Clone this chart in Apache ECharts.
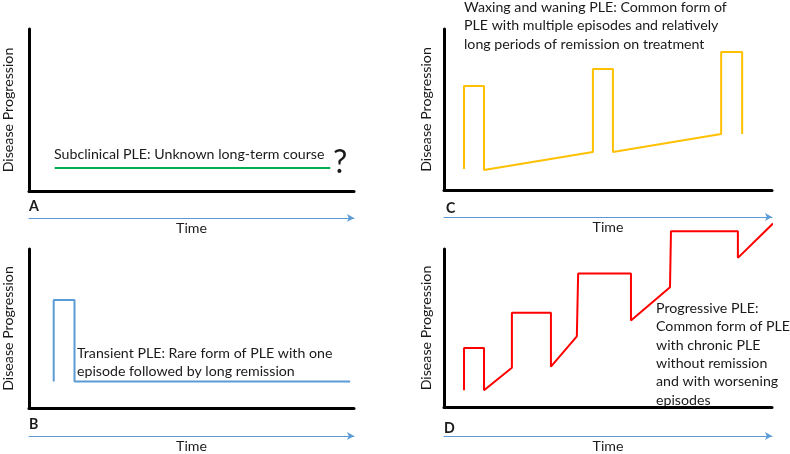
<!DOCTYPE html>
<html><head><meta charset="utf-8">
<script src="https://cdn.jsdelivr.net/npm/echarts@6/dist/echarts.min.js"></script>
<style>html,body{margin:0;padding:0;background:#fff}#c{width:790px;height:454px}</style>
</head><body><div id="c"></div>
<script>
const FONT = 'Lato';
const TXT = '#1a1a1a';
// Panel A: subclinical
const timeA = [7.9, 92.7];
const progA = [14.2, 14.2];
// Panel B: transient
const timeB = [7.6, 7.6, 14.0, 14.0, 98.8];
const progB = [16.7, 67.9, 67.9, 16.7, 16.7];
// Panel C: waxing and waning
const timeC = [6.1, 6.1, 12.2, 12.2, 45.4, 45.4, 51.5, 51.5, 84.5, 84.5, 90.9, 90.9];
const progC = [13.0, 64.6, 64.6, 12.4, 23.6, 75.2, 75.2, 23.6, 34.8, 85.7, 85.7, 34.8];
// Panel D: progressive
const timeD = [6.1, 6.1, 12.2, 12.2, 20.7, 20.7, 32.6, 32.6, 40.5, 40.9, 57.0, 57.0, 68.9, 69.2, 89.6, 89.6, 100.3];
const progD = [10.6, 37.3, 37.3, 10.6, 24.8, 59.6, 59.6, 25.5, 44.7, 84.5, 84.5, 54.7, 75.8, 111.2, 111.2, 94.4, 116.1];

const panelLetters = ['A', 'B', 'C', 'D'];
const axisNameY = 'Disease Progression';
const axisNameX = 'Time';
const noteA = 'Subclinical PLE: Unknown long-term course';
const noteB = 'Transient PLE: Rare form of PLE with one\nepisode followed by long remission';
const noteC = 'Waxing and waning PLE: Common form of\nPLE with multiple episodes and relatively\nlong periods of remission on treatment';
const noteD = 'Progressive PLE:\nCommon form of PLE\nwith chronic PLE\nwithout remission\nand with worsening\nepisodes';

const panels = [
  {t: timeA, p: progA, color: '#00b050', grid: {left: 26, top: 29, width: 328, height: 162}, arrowOff: 27, nameGap: 14},
  {t: timeB, p: progB, color: '#5b9bd5', grid: {left: 26, top: 249, width: 328, height: 162}, arrowOff: 28, nameGap: 14},
  {t: timeC, p: progC, color: '#ffc000', grid: {left: 444, top: 29, width: 328, height: 161}, arrowOff: 27, nameGap: 11},
  {t: timeD, p: progD, color: '#ff0000', grid: {left: 444, top: 249, width: 328, height: 161}, arrowOff: 29, nameGap: 11}
];

const grid = [], xAxis = [], yAxis = [], series = [];
panels.forEach((pn, i) => {
  grid.push(Object.assign({containLabel: false}, pn.grid));
  const hidden = {axisTick: {show: false}, axisLabel: {show: false}, splitLine: {show: false}};
  xAxis.push(Object.assign({
    type: 'value', gridIndex: i, min: 0, max: 100,
    axisLine: {show: true, onZero: false, lineStyle: {color: '#000', width: 3}}
  }, hidden));
  xAxis.push(Object.assign({
    type: 'value', gridIndex: i, min: 0, max: 100, position: 'bottom', offset: pn.arrowOff,
    axisLine: {show: true, onZero: false, symbol: ['none', 'arrow'], symbolSize: [6, 7], lineStyle: {color: '#5b9bd5', width: 1}},
    name: axisNameX, nameLocation: 'middle', nameGap: 3,
    nameTextStyle: {fontFamily: FONT, fontSize: 14.2, color: TXT}
  }, hidden));
  yAxis.push(Object.assign({
    type: 'value', gridIndex: i, min: 0, max: 100,
    axisLine: {show: true, onZero: false, lineStyle: {color: '#000', width: 3}},
    name: axisNameY, nameLocation: 'middle', nameGap: pn.nameGap, nameRotate: 90,
    nameTextStyle: {fontFamily: FONT, fontSize: 14.2, color: TXT}
  }, hidden));
  series.push({
    type: 'line', xAxisIndex: 2 * i, yAxisIndex: i,
    data: pn.t.map((x, k) => [x, pn.p[k]]),
    showSymbol: false, symbol: 'none', clip: false, animation: false,
    lineStyle: {color: pn.color, width: 2}
  });
});

function txt(x, y, text, extra) {
  return {type: 'text', x: x, y: y, silent: true,
    style: Object.assign({text: text, fontFamily: FONT, fontSize: 14.2, fill: TXT, lineHeight: 18.4, verticalAlign: 'top'}, extra || {})};
}
const graphic = [
  txt(54, 145, noteA),
  txt(333, 146, '?', {fontSize: 32, lineHeight: 34}),
  txt(77, 344, noteB, {lineHeight: 18}),
  txt(464, -2, noteC),
  txt(656, 299, noteD),
  txt(29, 197, panelLetters[0], {fontWeight: 'bold'}),
  txt(29, 415, panelLetters[1], {fontWeight: 'bold'}),
  txt(446, 199, panelLetters[2], {fontWeight: 'bold'}),
  txt(444, 419, panelLetters[3], {fontWeight: 'bold'})
];

const chart = echarts.init(document.getElementById('c'), null, {renderer: 'canvas'});
chart.setOption({animation: false, grid, xAxis, yAxis, series, graphic});
</script></body></html>
